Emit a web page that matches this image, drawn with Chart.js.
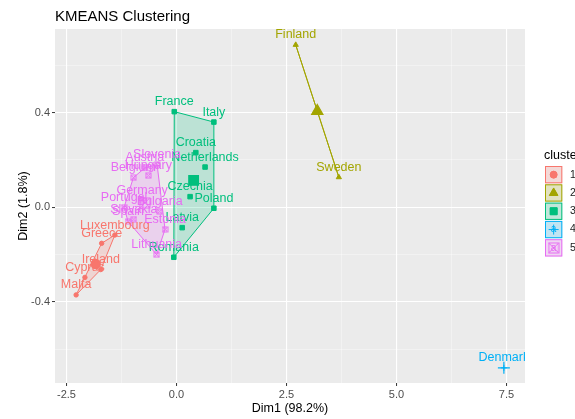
<!DOCTYPE html>
<html>
<head>
<meta charset="utf-8">
<script src="https://cdn.jsdelivr.net/npm/chart.js@4.4.0/dist/chart.umd.min.js"></script>
<style>
  html, body { margin: 0; padding: 0; background: #fff; }
  #wrap { width: 575px; height: 419px; }
</style>
</head>
<body>
<div id="wrap"><canvas id="chart" width="575" height="419"></canvas></div>
<script>
// valores
const clusterIds = ['1', '2', '3', '4', '5'];
const clusterColors = ['#F8766D', '#A3A500', '#00BF7D', '#00B0F6', '#E76BF3'];

const c1Names = ['Malta', 'Cyprus', 'Ireland', 'Greece', 'Luxembourg'];
const c1Dim1 = [-2.28, -2.08, -1.72, -1.70, -1.40];
const c1Dim2 = [-0.370, -0.296, -0.263, -0.152, -0.117];

const c2Names = ['Finland', 'Sweden'];
const c2Dim1 = [2.71, 3.69];
const c2Dim2 = [0.686, 0.127];

const c3Names = ['France', 'Italy', 'Croatia', 'Netherlands', 'Czechia', 'Poland', 'Latvia', 'Romania'];
const c3Dim1 = [-0.05, 0.85, 0.44, 0.65, 0.31, 0.85, 0.13, -0.06];
const c3Dim2 = [0.404, 0.360, 0.231, 0.170, 0.045, -0.004, -0.086, -0.211];

const c4Names = ['Denmark'];
const c4Dim1 = [7.44];
const c4Dim2 = [-0.678];

const c5Names = ['Slovenia', 'Austria', 'Hungary', 'Belgium', 'Germany', 'Portugal', 'Bulgaria', 'Slovakia', 'Spain', 'Estonia', 'Lithuania'];
const c5Dim1 = [-0.44, -0.72, -0.64, -0.98, -0.78, -1.19, -0.38, -0.97, -1.10, -0.26, -0.45];
const c5Dim2 = [0.180, 0.166, 0.134, 0.125, 0.030, 0.000, -0.018, -0.050, -0.060, -0.093, -0.200];

const xTicks = [-2.5, 0, 2.5, 5, 7.5];
const xMinorTicks = [-1.25, 1.25, 3.75, 6.25];
const yTicks = [-0.4, 0, 0.4];
const yMinorTicks = [-0.6, -0.2, 0.2, 0.6];

const clusters = [
  { names: c1Names, d1: c1Dim1, d2: c1Dim2 },
  { names: c2Names, d1: c2Dim1, d2: c2Dim2 },
  { names: c3Names, d1: c3Dim1, d2: c3Dim2 },
  { names: c4Names, d1: c4Dim1, d2: c4Dim2 },
  { names: c5Names, d1: c5Dim1, d2: c5Dim2 }
];

const FONT = "'Liberation Sans', Arial, sans-serif";

function hexA(hex, a) {
  const n = parseInt(hex.slice(1), 16);
  return 'rgba(' + (n >> 16) + ',' + ((n >> 8) & 255) + ',' + (n & 255) + ',' + a + ')';
}

// cuadrado con x (forma 7 de ggplot)
function squareX(size, color) {
  const cv = document.createElement('canvas');
  cv.width = size + 2;
  cv.height = size + 2;
  const c = cv.getContext('2d');
  c.strokeStyle = color;
  c.lineWidth = 1;
  c.strokeRect(1, 1, size, size);
  c.beginPath();
  c.moveTo(1, 1); c.lineTo(size + 1, size + 1);
  c.moveTo(size + 1, 1); c.lineTo(1, size + 1);
  c.stroke();
  return cv;
}

const styles = [
  { point: 'circle', r: 2.2, cr: 4.6 },
  { point: 'triangle', r: 3, cr: 6.5 },
  { point: 'rect', r: 3.2, cr: 6.8 },
  { point: 'cross', r: 3, cr: 6 },
  { point: squareX(5, clusterColors[4]), r: 3, cr: 5, big: squareX(10, clusterColors[4]) }
];

const datasets = [];
clusters.forEach((cl, i) => {
  const col = clusterColors[i];
  const st = styles[i];
  datasets.push({
    label: clusterIds[i],
    data: cl.d1.map((x, k) => ({ x: x, y: cl.d2[k] })),
    pointStyle: st.point,
    pointRadius: st.r,
    backgroundColor: col,
    borderColor: col,
    borderWidth: 1,
    showLine: false
  });
  const mx = cl.d1.reduce((a, b) => a + b, 0) / cl.d1.length;
  const my = cl.d2.reduce((a, b) => a + b, 0) / cl.d2.length;
  datasets.push({
    label: 'centro ' + clusterIds[i],
    data: [{ x: mx, y: my }],
    pointStyle: st.big || st.point,
    pointRadius: st.cr,
    backgroundColor: col,
    borderColor: col,
    borderWidth: 1.2,
    showLine: false
  });
});

function convexHull(pts) {
  const p = pts.slice().sort((a, b) => a[0] - b[0] || a[1] - b[1]);
  if (p.length < 3) return p;
  const cross = (o, a, b) => (a[0] - o[0]) * (b[1] - o[1]) - (a[1] - o[1]) * (b[0] - o[0]);
  const lower = [], upper = [];
  for (const q of p) {
    while (lower.length >= 2 && cross(lower[lower.length - 2], lower[lower.length - 1], q) <= 0) lower.pop();
    lower.push(q);
  }
  for (let i = p.length - 1; i >= 0; i--) {
    const q = p[i];
    while (upper.length >= 2 && cross(upper[upper.length - 2], upper[upper.length - 1], q) <= 0) upper.pop();
    upper.push(q);
  }
  upper.pop(); lower.pop();
  return lower.concat(upper);
}

const panelPlugin = {
  id: 'panel',
  beforeDraw(chart) {
    const a = chart.chartArea;
    const ctx = chart.ctx;
    ctx.save();
    ctx.fillStyle = '#EBEBEB';
    ctx.fillRect(a.left, a.top, a.right - a.left, a.bottom - a.top);
    ctx.restore();
  },
  beforeDatasetsDraw(chart) {
    const ctx = chart.ctx;
    const sx = chart.scales.x, sy = chart.scales.y;
    const a = chart.chartArea;
    ctx.save();
    ctx.beginPath();
    ctx.rect(a.left, a.top, a.right - a.left, a.bottom - a.top);
    ctx.clip();
    clusters.forEach((cl, i) => {
      const pts = cl.d1.map((x, k) => [sx.getPixelForValue(x), sy.getPixelForValue(cl.d2[k])]);
      if (pts.length < 2) return;
      const h = convexHull(pts);
      ctx.beginPath();
      h.forEach((q, k) => k ? ctx.lineTo(q[0], q[1]) : ctx.moveTo(q[0], q[1]));
      ctx.closePath();
      ctx.fillStyle = hexA(clusterColors[i], 0.2);
      ctx.fill();
      ctx.strokeStyle = clusterColors[i];
      ctx.lineWidth = 1;
      ctx.stroke();
    });
    ctx.restore();
  },
  afterDatasetsDraw(chart) {
    const ctx = chart.ctx;
    const sx = chart.scales.x, sy = chart.scales.y;
    const a = chart.chartArea;
    ctx.save();
    ctx.beginPath();
    ctx.rect(a.left, a.top, a.right - a.left, a.bottom - a.top);
    ctx.clip();
    ctx.font = '12.5px ' + FONT;
    ctx.textAlign = 'center';
    ctx.textBaseline = 'alphabetic';
    clusters.forEach((cl, i) => {
      ctx.fillStyle = clusterColors[i];
      cl.names.forEach((n, k) => {
        ctx.fillText(n, sx.getPixelForValue(cl.d1[k]), sy.getPixelForValue(cl.d2[k]) - 6.5);
      });
    });
    ctx.restore();
  },
  afterDraw(chart) {
    const ctx = chart.ctx;
    ctx.save();
    // titulo
    ctx.fillStyle = '#000';
    ctx.font = '15px ' + FONT;
    ctx.textAlign = 'left';
    ctx.textBaseline = 'alphabetic';
    ctx.fillText('KMEANS Clustering', 55, 21);
    // titulos de ejes
    ctx.font = '12.5px ' + FONT;
    ctx.textAlign = 'center';
    ctx.fillText('Dim1 (98.2%)', 290, 412);
    ctx.save();
    ctx.translate(26.5, 206);
    ctx.rotate(-Math.PI / 2);
    ctx.fillText('Dim2 (1.8%)', 0, 0);
    ctx.restore();
    // leyenda
    ctx.textAlign = 'left';
    ctx.fillText('cluster', 544, 159);
    clusterIds.forEach((id, i) => {
      const col = clusterColors[i];
      const x0 = 545, y0 = 166 + i * 18.3, s = 17.3;
      const cx = x0 + s / 2, cy = y0 + s / 2;
      ctx.fillStyle = '#F2F2F2';
      ctx.fillRect(x0, y0, s, s);
      ctx.fillStyle = hexA(col, 0.2);
      ctx.fillRect(x0, y0, s, s);
      ctx.strokeStyle = col;
      ctx.lineWidth = 1;
      ctx.strokeRect(x0 + 0.5, y0 + 0.5, s - 1, s - 1);
      ctx.fillStyle = col;
      ctx.font = '10px ' + FONT;
      ctx.textAlign = 'center';
      ctx.textBaseline = 'middle';
      ctx.fillText('a', cx, cy);
      const st = styles[i];
      if (typeof st.point === 'string') {
        Chart.helpers.drawPoint(ctx, { pointStyle: st.point, radius: i === 0 ? 3.5 : 5, borderWidth: 1 }, cx, cy);
        if (i !== 3) ctx.fill();
      } else {
        ctx.drawImage(st.big, cx - 6, cy - 6);
      }
      ctx.fillStyle = '#1A1A1A';
      ctx.font = '10.5px ' + FONT;
      ctx.textAlign = 'left';
      ctx.fillText(id, 570, cy);
    });
    ctx.restore();
  }
};

function isMajor(list, v) {
  return list.some(t => Math.abs(t - v) < 1e-6);
}

new Chart(document.getElementById('chart').getContext('2d'), {
  type: 'scatter',
  data: { datasets: datasets },
  options: {
    responsive: false,
    animation: false,
    devicePixelRatio: 1,
    layout: { padding: { left: 0, top: 29, right: 50, bottom: 0 } },
    plugins: { legend: { display: false }, tooltip: { enabled: false }, title: { display: false } },
    scales: {
      x: {
        type: 'linear',
        min: -2.76,
        max: 7.92,
        afterFit: s => { s.height = 36; },
        afterBuildTicks: s => { s.ticks = xTicks.concat(xMinorTicks).sort((a, b) => a - b).map(v => ({ value: v })); },
        border: { display: false },
        grid: {
          color: c => isMajor(xTicks, c.tick.value) ? '#FFFFFF' : 'rgba(255,255,255,0.7)',
          lineWidth: c => isMajor(xTicks, c.tick.value) ? 1.1 : 0.55,
          tickColor: c => isMajor(xTicks, c.tick.value) ? '#333333' : 'rgba(0,0,0,0)',
          tickWidth: 1,
          tickLength: 3
        },
        ticks: {
          padding: 2,
          maxRotation: 0,
          autoSkip: false,
          color: '#4D4D4D',
          font: { family: FONT, size: 11 },
          callback: v => isMajor(xTicks, v) ? v.toFixed(1) : ''
        }
      },
      y: {
        type: 'linear',
        min: -0.742,
        max: 0.753,
        afterFit: s => { s.width = 55; },
        afterBuildTicks: s => { s.ticks = yTicks.concat(yMinorTicks).sort((a, b) => a - b).map(v => ({ value: v })); },
        border: { display: false },
        grid: {
          color: c => isMajor(yTicks, c.tick.value) ? '#FFFFFF' : 'rgba(255,255,255,0.7)',
          lineWidth: c => isMajor(yTicks, c.tick.value) ? 1.1 : 0.55,
          tickColor: c => isMajor(yTicks, c.tick.value) ? '#333333' : 'rgba(0,0,0,0)',
          tickWidth: 1,
          tickLength: 3
        },
        ticks: {
          padding: 2,
          autoSkip: false,
          color: '#4D4D4D',
          font: { family: FONT, size: 11 },
          callback: v => isMajor(yTicks, v) ? v.toFixed(1) : ''
        }
      }
    }
  },
  plugins: [panelPlugin]
});
</script>
</body>
</html>
